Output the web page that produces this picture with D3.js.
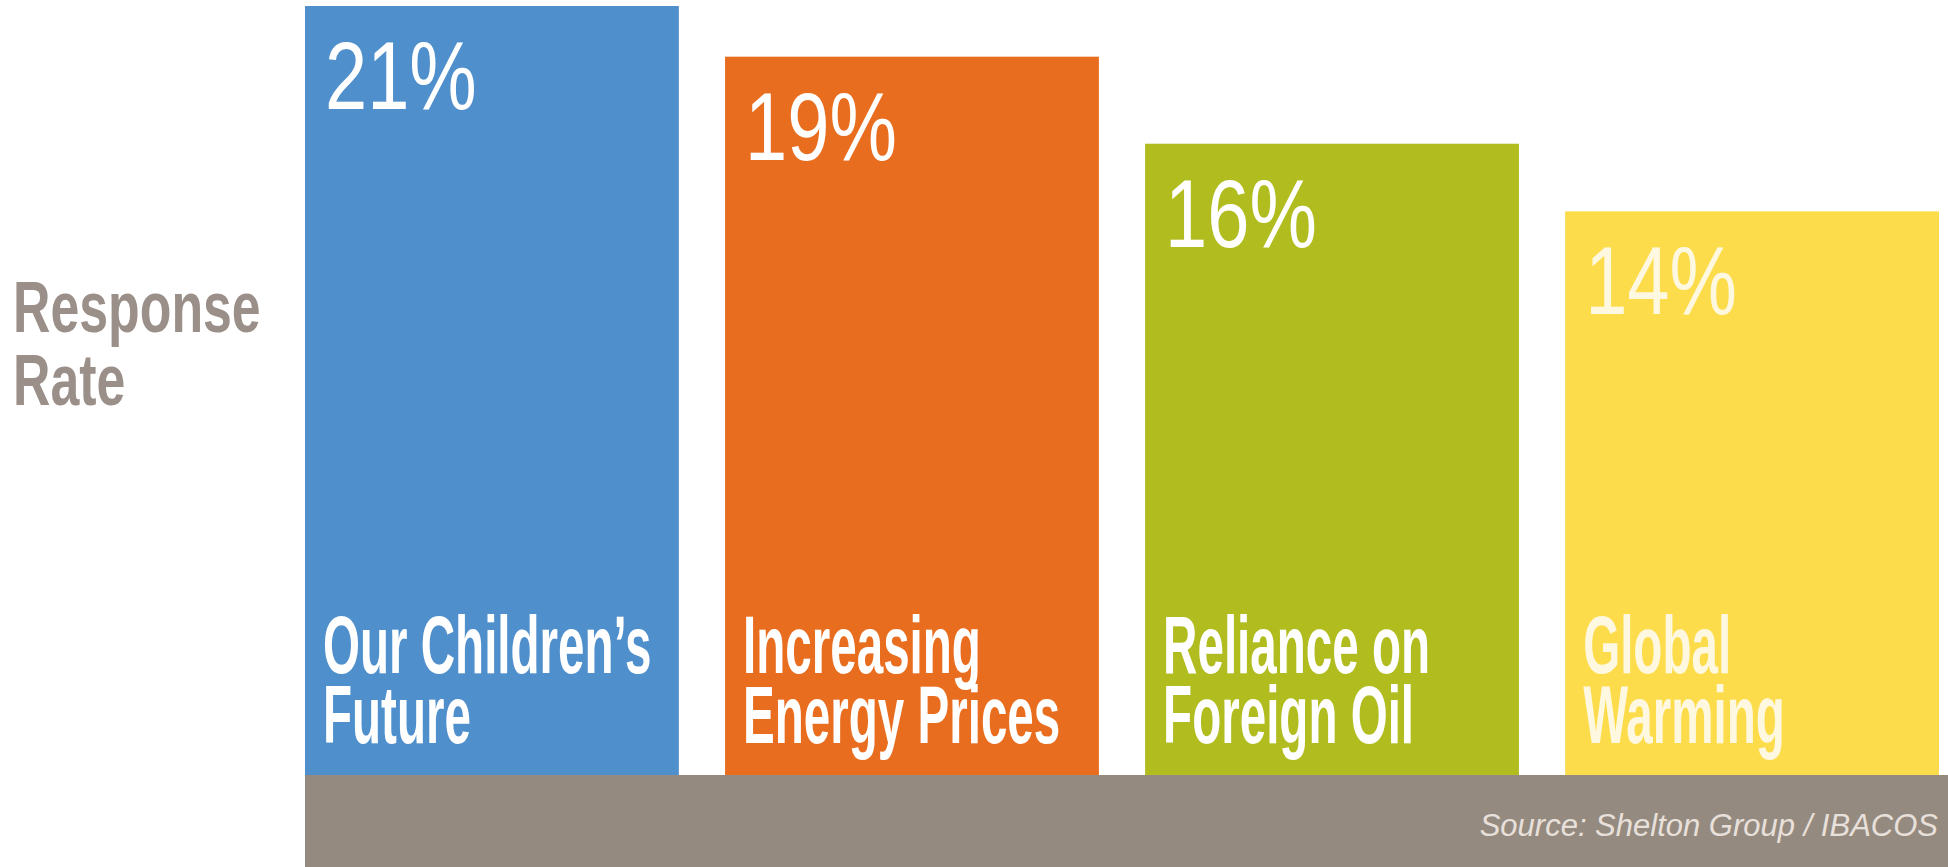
<!DOCTYPE html>
<meta charset="utf-8">
<body style="margin:0;background-color:white;">
<svg width="1948" height="867"></svg>
<script src="https://d3js.org/d3.v7.min.js"></script>
<script>

var categories = ["Our Children’s Future", "Increasing Energy Prices", "Reliance on Foreign Oil", "Global Warming"];
var labelLines = [["Our Children’s", "Future"], ["Increasing", "Energy Prices"], ["Reliance on", "Foreign Oil"], ["Global", "Warming"]];
var values = [21, 19, 16, 14];
var barColors = ["#4f8fcc", "#e96d1f", "#b1bc1f", "#fddc4b"];
var axisTitle = ["Response", "Rate"];
var source = "Source: Shelton Group / IBACOS";

var svg = d3.select("svg");
var baseY = 775;

var x = d3.scaleBand()
		  .domain(categories)
		  .range([305, 1939])
		  .paddingInner(0.11);

// the original bars are not proportional to the values, a log scale fits them best
var y = d3.scaleLog()
		  .domain([4.6, 21])
		  .range([baseY, 6]);

var font = "'Liberation Sans', Arial, sans-serif";

// gray base strip
svg.append('rect')
   .attr('x', x.range()[0])
   .attr('y', baseY)
   .attr('width', 1948 - x.range()[0])
   .attr('height', 867 - baseY)
   .attr('fill', '#958a80');

var bars = svg.selectAll('g.bar')
			  .data(categories)
			  .enter().append('g')
			  .attr('class', 'bar');

bars.append('rect')
	.attr('x', function(d) { return x(d); })
	.attr('y', function(d, i) { return y(values[i]); })
	.attr('width', x.bandwidth())
	.attr('height', function(d, i) { return baseY - y(values[i]); })
	.attr('fill', function(d, i) { return barColors[i]; });

// percent labels
bars.append('text')
	.attr('transform', function(d, i) {
		return 'translate(' + (x(d) + 20) + ',' + (y(values[i]) + 103) + ') scale(0.79,1)';
	})
	.attr('font-family', font)
	.attr('font-size', 96)
	.attr('fill', function(d, i) { return i == 3 ? '#fff8e0' : '#ffffff'; })
	.text(function(d, i) { return values[i] + '%'; });

// category labels, two lines in one text
var catText = bars.append('text')
	.attr('transform', function(d) { return 'translate(' + (x(d) + 18) + ',673) scale(0.58,1)'; })
	.attr('font-family', font)
	.attr('font-weight', 'bold')
	.attr('font-size', 82)
	.attr('fill', function(d, i) { return i == 3 ? '#fff8e0' : '#ffffff'; });

catText.each(function(d, i) {
	var t = d3.select(this);
	labelLines[i].forEach(function(line, j) {
		t.append('tspan')
		 .attr('x', 0)
		 .attr('y', j * 70)
		 .text(line);
	});
});

// axis title
var title = svg.append('text')
	.attr('transform', 'translate(13,332) scale(0.72,1)')
	.attr('font-family', font)
	.attr('font-weight', 'bold')
	.attr('font-size', 72)
	.attr('fill', '#9b9089');

axisTitle.forEach(function(line, j) {
	title.append('tspan')
		 .attr('x', 0)
		 .attr('y', j * 73)
		 .text(line);
});

// source note
svg.append('text')
   .attr('x', 1938)
   .attr('y', 836)
   .attr('text-anchor', 'end')
   .attr('font-family', font)
   .attr('font-style', 'italic')
   .attr('font-size', 31)
   .attr('fill', '#e8e0da')
   .text(source);

</script>
</body>
